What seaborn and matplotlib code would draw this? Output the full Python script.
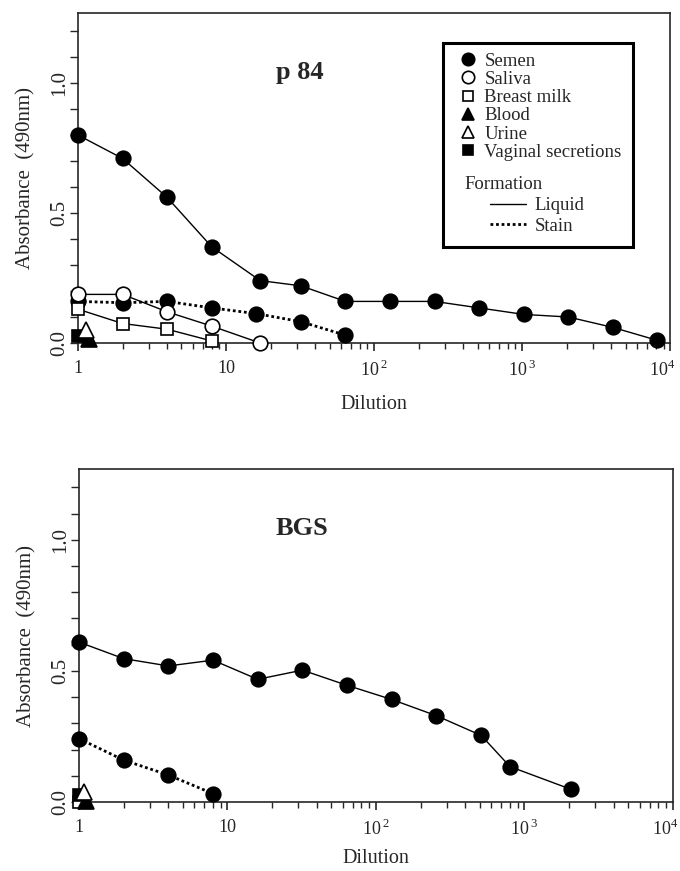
import numpy as np
import pandas as pd
import matplotlib
matplotlib.use('Agg')
import matplotlib.pyplot as plt
import seaborn as sns
from matplotlib.lines import Line2D
from matplotlib.patches import Rectangle
from matplotlib.legend_handler import HandlerLine2D
from matplotlib.transforms import ScaledTranslation
from matplotlib.ticker import FixedLocator, FixedFormatter, MultipleLocator, NullFormatter

sns.set_style('ticks')
plt.rcParams['font.family'] = ['Liberation Serif', 'DejaVu Serif']
plt.rcParams['mathtext.fontset'] = 'custom'
plt.rcParams['mathtext.rm'] = 'Liberation Serif'

# ---- p 84 panel ----
p84_semen_liq_x = [1, 2, 4, 8, 17, 32, 64, 128, 256, 512, 1024, 2048, 4096, 8192]
p84_semen_liq_y = [0.80, 0.71, 0.56, 0.37, 0.24, 0.22, 0.16, 0.16, 0.16, 0.135, 0.11, 0.10, 0.06, 0.01]
p84_semen_stain_x = [1, 2, 4, 8, 16, 32, 64]
p84_semen_stain_y = [0.16, 0.155, 0.16, 0.135, 0.113, 0.082, 0.03]
p84_saliva_x = [1, 2, 4, 8, 17]
p84_saliva_y = [0.187, 0.187, 0.12, 0.065, 0.0]
p84_milk_x = [1, 2, 4, 8]
p84_milk_y = [0.13, 0.075, 0.053, 0.008]
p84_blood = (1.19, 0.015)
p84_urine = (1.13, 0.05)
p84_vaginal = (1.0, 0.027)

# ---- BGS panel ----
bgs_semen_liq_x = [1, 2, 4, 8, 16, 32, 64, 128, 256, 512, 800, 2048]
bgs_semen_liq_y = [0.61, 0.547, 0.519, 0.541, 0.468, 0.503, 0.445, 0.391, 0.329, 0.254, 0.135, 0.049]
bgs_semen_stain_x = [1, 2, 4, 8]
bgs_semen_stain_y = [0.242, 0.16, 0.103, 0.032]
bgs_milk = (1.0, 0.0)
bgs_vaginal = (1.0, 0.025)
bgs_blood = (1.12, 0.005)
bgs_urine = (1.08, 0.04)

xtick_vals = [1, 10, 100, 1000, 10000]
xtick_labels = ['1', '10', r'$10^{\,2}$', r'$10^{\,3}$', r'$10^{4}$']
ytick_vals = [0.0, 0.5, 1.0]
ytick_labels = ['0.0', '0.5', '1.0']

# marker styles (black filled / open)
SEMEN = dict(marker='o', markersize=10.5, markerfacecolor='black')
SALIVA = dict(marker='o', markersize=10.5, markerfacecolor='white')
MILK = dict(marker='s', markersize=9, markerfacecolor='white')
BLOOD = dict(marker='^', markersize=11, markerfacecolor='black')
URINE = dict(marker='^', markersize=11, markerfacecolor='white')
VAGINAL = dict(marker='s', markersize=9, markerfacecolor='black')
LIQUID = dict(linestyle='-', linewidth=1.0)
STAIN = dict(linestyle=(0, (1, 1)), linewidth=2.0)


def draw(ax, x, y, style, line=LIQUID):
    sns.lineplot(x=x, y=y, ax=ax, color='black', estimator=None, sort=False,
                 markeredgecolor='black', markeredgewidth=1.2, clip_on=False,
                 zorder=5, **style, **line)


def draw_point(ax, pt, style):
    draw(ax, [pt[0]], [pt[1]], style)


def style_axes(ax, label, xlabelpad):
    ax.set_xscale('log')
    ax.set_xlim(1, 1e4)
    ax.set_ylim(0, 1.27)
    ax.xaxis.set_major_locator(FixedLocator(xtick_vals))
    ax.xaxis.set_major_formatter(FixedFormatter(xtick_labels))
    ax.xaxis.set_minor_formatter(NullFormatter())
    ax.yaxis.set_major_locator(FixedLocator(ytick_vals))
    ax.yaxis.set_major_formatter(FixedFormatter(ytick_labels))
    ax.yaxis.set_minor_locator(MultipleLocator(0.1))
    ax.tick_params(axis='x', which='major', direction='out', length=6, width=1.2,
                   labelsize=13, pad=6)
    ax.tick_params(axis='x', which='minor', direction='out', length=4, width=1.0)
    ax.tick_params(axis='y', which='both', direction='out', length=6, width=1.0,
                   labelsize=15, pad=0)
    for t in ax.get_yticklabels():
        t.set_rotation(90)
        t.set_va('center')
    # last x label sits at the figure edge: nudge it left a little
    last = ax.xaxis.get_major_ticks()[-1].label1
    last.set_transform(last.get_transform() +
                       ScaledTranslation(-8 / 100, 0, ax.figure.dpi_scale_trans))
    for s in ax.spines.values():
        s.set_linewidth(1.2)
        s.set_visible(True)
    ax.set_xlabel('Dilution', fontsize=14.5, labelpad=xlabelpad)
    ax.set_ylabel('Absorbance  (490nm)', fontsize=15, labelpad=11)
    ax.text(0.375, 0.82, label, transform=ax.transAxes, fontsize=19,
            fontweight='bold', ha='center', va='center')


fig = plt.figure(figsize=(6.8, 8.71), dpi=100)
ax1 = fig.add_axes([0.1147, 0.6062, 0.871, 0.379])
ax2 = fig.add_axes([0.116, 0.0792, 0.8735, 0.3823])

# p 84
draw(ax1, p84_semen_liq_x, p84_semen_liq_y, SEMEN)
draw(ax1, p84_semen_stain_x, p84_semen_stain_y, SEMEN, STAIN)
draw(ax1, p84_saliva_x, p84_saliva_y, SALIVA)
draw(ax1, p84_milk_x, p84_milk_y, MILK)
draw_point(ax1, p84_vaginal, VAGINAL)
draw_point(ax1, p84_blood, BLOOD)
draw_point(ax1, p84_urine, URINE)
style_axes(ax1, 'p 84', 11)

# BGS
draw(ax2, bgs_semen_liq_x, bgs_semen_liq_y, SEMEN)
draw(ax2, bgs_semen_stain_x, bgs_semen_stain_y, SEMEN, STAIN)
draw_point(ax2, bgs_milk, MILK)
draw_point(ax2, bgs_vaginal, VAGINAL)
draw_point(ax2, bgs_blood, BLOOD)
draw_point(ax2, bgs_urine, URINE)
style_axes(ax2, 'BGS', 7)


# legend: sample markers, then "Formation" line styles, inside one thick box
class IndentedLine(HandlerLine2D):
    def create_artists(self, legend, orig_handle, xdescent, ydescent, width,
                       height, fontsize, trans):
        indent = 0.42 * width
        return super().create_artists(legend, orig_handle, xdescent - indent,
                                      ydescent, width - indent, height,
                                      fontsize, trans)


names = ['Semen', 'Saliva', 'Breast milk', 'Blood', 'Urine', 'Vaginal secretions']
styles = [SEMEN, SALIVA, MILK, BLOOD, URINE, VAGINAL]
mk_handles = [Line2D([], [], color='black', linestyle='none',
                     markeredgecolor='black', markeredgewidth=1.2,
                     **{**s, 'markersize': s['markersize'] * 0.85})
              for s in styles]
leg1 = ax1.legend(mk_handles, names, loc='upper left', bbox_to_anchor=(0.642, 0.88),
                  frameon=False, fontsize=13.5, handlelength=1.0, handletextpad=0.4,
                  labelspacing=0.06, borderpad=0, borderaxespad=0)
ax1.add_artist(leg1)

ln_handles = [Line2D([], [], color='black', **LIQUID), Line2D([], [], color='black', **STAIN)]
leg2 = ax1.legend(ln_handles, ['Liquid', 'Stain'], loc='upper left',
                  bbox_to_anchor=(0.652, 0.505), frameon=False, fontsize=13.5,
                  title='Formation', title_fontsize=13.5, alignment='left',
                  handlelength=3.3, handletextpad=0.45, labelspacing=0.2,
                  borderpad=0, borderaxespad=0,
                  handler_map={Line2D: IndentedLine()})
ax1.add_patch(Rectangle((0.617, 0.291), 0.3205, 0.618, transform=ax1.transAxes,
                        fill=False, edgecolor='black', linewidth=2.2, zorder=6,
                        clip_on=False))

fig.savefig('out.png', dpi=100)
